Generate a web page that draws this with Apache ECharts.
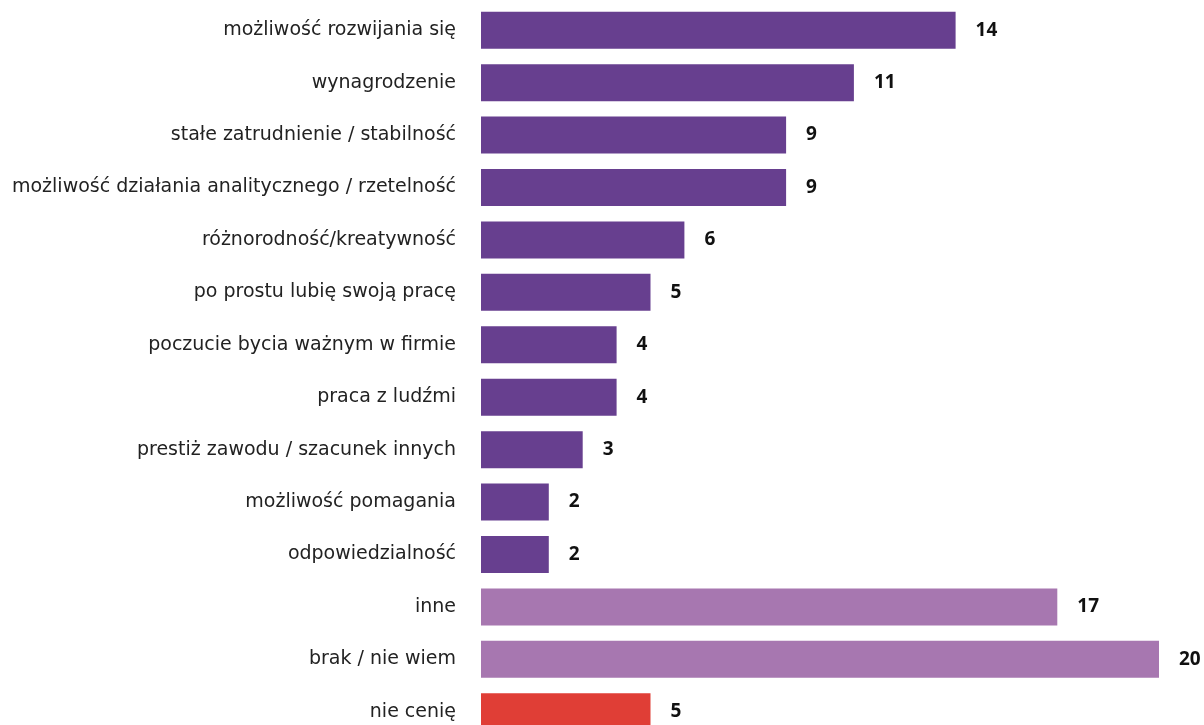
<!DOCTYPE html>
<html>
<head>
<meta charset="utf-8">
<script src="https://cdn.jsdelivr.net/npm/echarts@6/dist/echarts.min.js"></script>
<style>
  html, body { margin: 0; padding: 0; background: #fff; }
  #chart { width: 1204px; height: 725px; }
</style>
</head>
<body>
<div id="chart"></div>
<script>
const categories = [
  'możliwość rozwijania się',
  'wynagrodzenie',
  'stałe zatrudnienie / stabilność',
  'możliwość działania analitycznego / rzetelność',
  'różnorodność/kreatywność',
  'po prostu lubię swoją pracę',
  'poczucie bycia ważnym w firmie',
  'praca z ludźmi',
  'prestiż zawodu / szacunek innych',
  'możliwość pomagania',
  'odpowiedzialność',
  'inne',
  'brak / nie wiem',
  'nie cenię'
]
const values = [14, 11, 9, 9, 6, 5, 4, 4, 3, 2, 2, 17, 20, 5]
// colour group per bar: 0 = reason, 1 = other / none, 2 = don't value
const groups = [0, 0, 0, 0, 0, 0, 0, 0, 0, 0, 0, 1, 1, 2]
const groupColors = ['#673f8f', '#a777b0', '#e03e36']

const chart = echarts.init(document.getElementById('chart'))
chart.setOption({
  backgroundColor: '#ffffff',
  animation: false,
  grid: {
    left: 481,
    right: 45,
    top: 4,
    height: 734,
    outerBoundsMode: 'none',
    containLabel: false
  },
  xAxis: {
    type: 'value',
    min: 0,
    max: 20,
    show: false
  },
  yAxis: {
    type: 'category',
    inverse: true,
    data: categories,
    axisLine: { show: false },
    axisTick: { show: false },
    axisLabel: {
      margin: 25,
      fontFamily: 'DejaVu Sans',
      fontSize: 19,
      color: '#222222'
    }
  },
  series: [
    {
      type: 'bar',
      barWidth: 37,
      data: values.map((v, i) => ({
        value: v,
        itemStyle: { color: groupColors[groups[i]] }
      })),
      label: {
        show: true,
        position: 'right',
        distance: 20,
        fontFamily: 'Noto Sans',
        fontSize: 19,
        fontWeight: 'bold',
        color: '#111111'
      }
    }
  ]
})
</script>
</body>
</html>
